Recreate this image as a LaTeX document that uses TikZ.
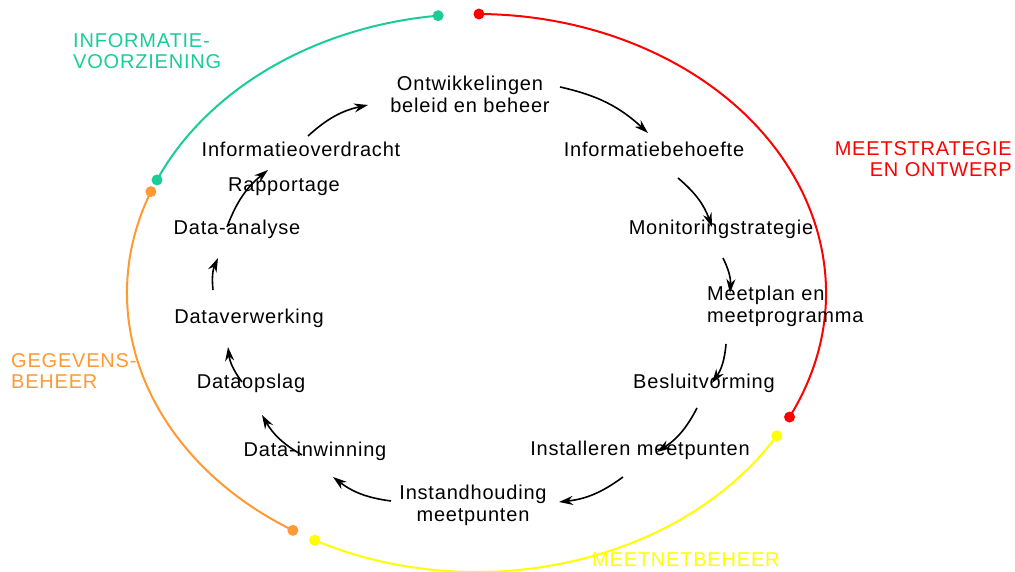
\documentclass[tikz,border=0pt]{standalone}
\usepackage{fontspec}
\setmainfont{Liberation Sans}[LetterSpace=4.0]
\usepackage{xcolor}
\usetikzlibrary{arrows.meta}
\definecolor{infogreen}{RGB}{26,204,150}
\definecolor{dataorange}{RGB}{255,153,51}
\definecolor{strategyred}{RGB}{255,0,0}
\definecolor{netyellow}{RGB}{255,255,0}

\tikzset{
  stap/.style={font=\fontsize{20}{22}\selectfont, inner sep=2pt, anchor=base, align=center},
  fase/.style={font=\fontsize{20}{21}\selectfont, inner sep=0pt},
  pijl/.style={-{Stealth[length=14pt,width=9pt]}, line width=1.6pt, black},
  boog/.style={line width=2pt},
}

\begin{document}
\begin{tikzpicture}[x=1pt,y=1pt]
    % Parameters
        \def\cx{476.5} \def\cy{279} % centre of the cycle
        \def\rx{349.5} \def\ry{279} % radii of the cycle
        \useasboundingbox (0,0) rectangle (1015,572);

        % Coloured arcs with their end points
        \foreach \a/\b/\c in {96.3/156.1/infogreen, 158.7/238.3/dataorange,
                              242.4/329.2/netyellow, -26.4/89.6/strategyred} {
            \draw[boog, \c] (\cx,\cy) ++(\a:{\rx} and {\ry})
                arc[start angle=\a, end angle=\b, x radius=\rx, y radius=\ry];
            \fill[\c] (\cx,\cy) ++(\a:{\rx} and {\ry}) circle[radius=5.5];
            \fill[\c] (\cx,\cy) ++(\b:{\rx} and {\ry}) circle[radius=5.5];
        }

        % Phase labels (base = last line)
        \node[fase, infogreen, anchor=base west, align=left] (infovz) at (73,503) {INFORMATIE-\\VOORZIENING};
        \node[fase, strategyred, anchor=base east, align=right] (strat) at (1012,395) {MEETSTRATEGIE\\EN ONTWERP};
        \node[fase, dataorange, anchor=base west, align=left] (gegbeh) at (11,183) {GEGEVENS-\\BEHEER};
        \node[fase, netyellow, anchor=base west] (netbeh) at (592,5) {MEETNETBEHEER};

        % Steps of the cycle
        \node[stap] (ontw) at (470,459) {Ontwikkelingen\\beleid en beheer};
        \node[stap] (behoefte) at (654,415) {Informatiebehoefte};
        \node[stap] (strategie) at (721,337) {Monitoringstrategie};
        \node[stap, anchor=base west, align=left] (meetplan) at (705,249) {Meetplan en\\meetprogramma};
        \node[stap] (besluit) at (704,183) {Besluitvorming};
        \node[stap] (install) at (640,116) {Installeren meetpunten};
        \node[stap] (instand) at (473,50) {Instandhouding\\meetpunten};
        \node[stap] (inwin) at (315,115) {Data-inwinning};
        \node[stap] (opslag) at (251,183) {Dataopslag};
        \node[stap] (verwerk) at (249,248) {Dataverwerking};
        \node[stap] (analyse) at (237,337) {Data-analyse};
        \node[stap] (rapport) at (284,380) {Rapportage};
        \node[stap] (overdracht) at (301,415) {Informatieoverdracht};

        % Arrows
        \foreach \s/\sx/\sy/\t/\tx/\ty in {
            ontw.base/90/26/behoefte.base/-6/24,
            behoefte.base/24/-21/strategie.base/-9/8,
            strategie.base/2/-23/meetplan.base west/25/30,
            meetplan.base west/21/-21/besluit.base/8/6,
            besluit.base/-7/-19/install.base/17/4,
            install.base/-17/-21/instand.base/86/20,
            instand.base/-82/21/inwin.base/18/-20,
            inwin.base/-13/2/opslag.base/11/-26,
            opslag.base/-9/7/verwerk.base/-21/-23,
            verwerk.base/-36/34/analyse.base/-19/-23,
            analyse.base/-10/8/overdracht.base/-33/-13,
            overdracht.base/7/21/ontw.base/-102/8} {
            \draw[pijl] ([shift={(\sx,\sy)}]\s) to[bend left=15] ([shift={(\tx,\ty)}]\t);
        }
    \end{tikzpicture}
\end{document}
